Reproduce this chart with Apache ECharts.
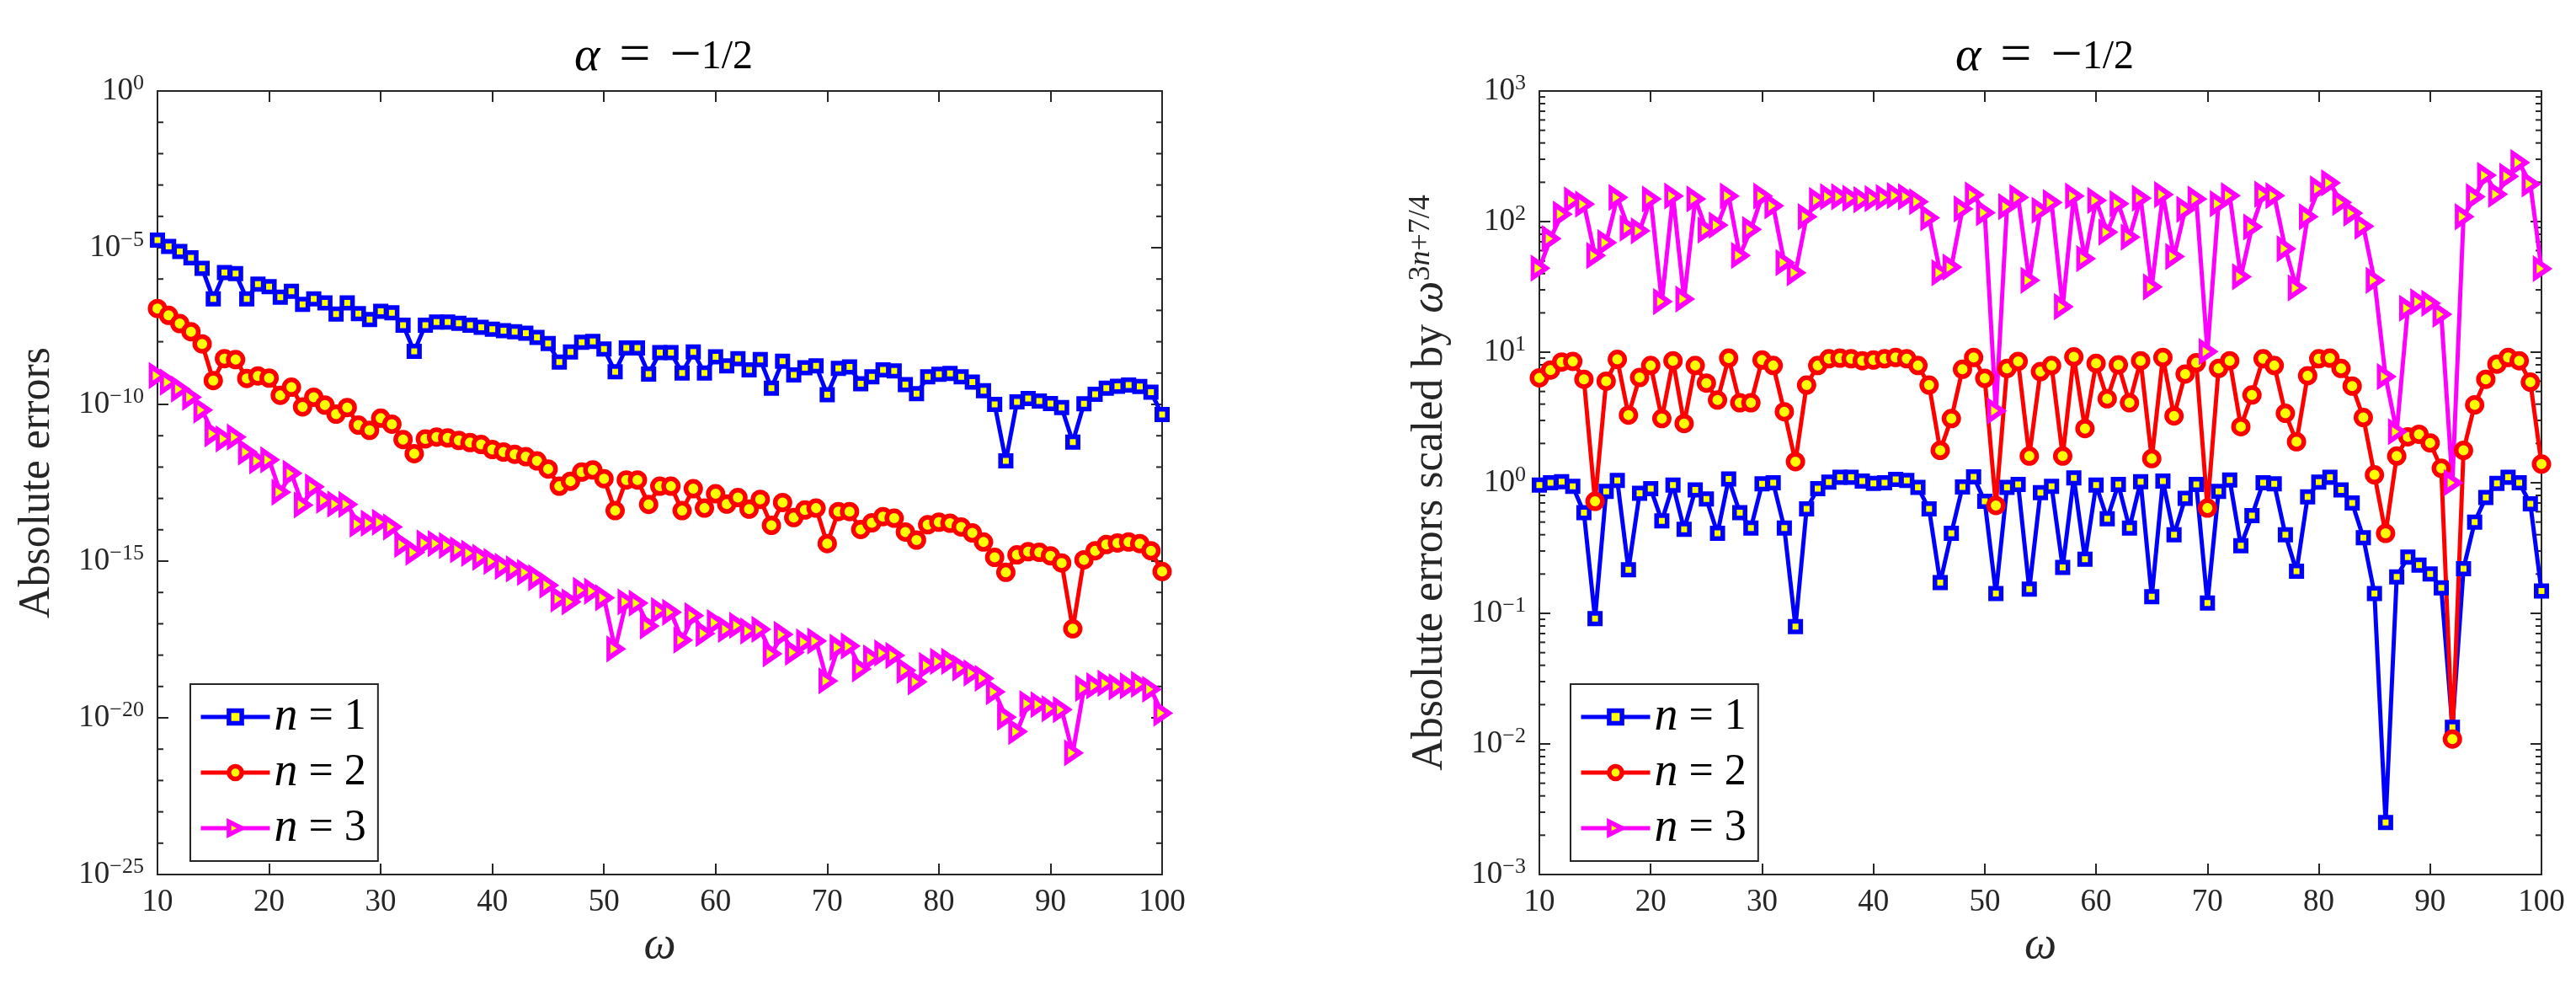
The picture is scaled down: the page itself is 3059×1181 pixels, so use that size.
<!DOCTYPE html>
<html>
<head>
<meta charset="utf-8">
<script src="https://cdn.jsdelivr.net/npm/echarts@6/dist/echarts.min.js"></script>
<style>
html,body{margin:0;padding:0;background:#ffffff;}
#chart{width:3059px;height:1181px;}
</style>
</head>
<body>
<div id="chart"></div>
<script>
// ---------- data ----------
const omega = [10,11,12,13,14,15,16,17,18,19,20,21,22,23,24,25,26,27,28,29,30,
  31,32,33,34,35,36,37,38,39,40,41,42,43,44,45,46,47,48,49,50,51,52,53,54,55,56,57,58,59,60,
  61,62,63,64,65,66,67,68,69,70,71,72,73,74,75,76,77,78,79,80,81,82,83,84,85,86,87,88,89,90,
  91,92,93,94,95,96,97,98,99,100];

// Left panel: absolute errors
const absErrN1 = [1.74e-5,1.10e-5,7.59e-6,4.79e-6,2.19e-6,2.34e-7,1.62e-6,1.48e-6,2.34e-7,6.92e-7,5.75e-7,
  2.63e-7,4.07e-7,1.55e-7,2.34e-7,1.74e-7,7.59e-8,1.74e-7,7.94e-8,5.13e-8,9.33e-8,
  8.32e-8,3.39e-8,4.90e-9,3.39e-8,4.27e-8,4.27e-8,3.89e-8,3.39e-8,2.88e-8,2.51e-8,
  2.24e-8,2.09e-8,1.86e-8,1.38e-8,8.71e-9,2.24e-9,4.68e-9,9.55e-9,1.02e-8,5.89e-9,
  1.10e-9,6.31e-9,6.31e-9,9.33e-10,4.47e-9,4.47e-9,1.00e-9,4.68e-9,1.00e-9,3.31e-9,
  1.70e-9,2.88e-9,1.26e-9,2.69e-9,3.31e-10,2.40e-9,8.71e-10,1.48e-9,1.70e-9,2.04e-10,
  1.41e-9,1.58e-9,4.57e-10,7.59e-10,1.26e-9,1.17e-9,4.27e-10,2.19e-10,7.59e-10,9.12e-10,
  9.77e-10,7.59e-10,5.13e-10,2.75e-10,1.00e-10,1.58e-12,1.20e-10,1.55e-10,1.29e-10,1.07e-10,
  7.94e-11,6.31e-12,1.05e-10,2.09e-10,3.31e-10,3.80e-10,4.17e-10,3.72e-10,2.45e-10,4.79e-11];

const absErrN2 = [1.15e-7,6.92e-8,3.80e-8,2.09e-8,8.51e-9,5.75e-10,2.88e-9,2.69e-9,6.76e-10,8.13e-10,6.92e-10,
  1.95e-10,3.55e-10,8.32e-11,1.70e-10,9.55e-11,4.90e-11,7.94e-11,2.19e-11,1.48e-11,3.63e-11,
  2.34e-11,7.59e-12,2.69e-12,7.94e-12,9.12e-12,8.51e-12,7.08e-12,6.03e-12,5.25e-12,3.63e-12,
  3.02e-12,2.57e-12,2.14e-12,1.58e-12,8.71e-13,2.45e-13,3.55e-13,6.92e-13,8.13e-13,4.27e-13,
  4.07e-14,3.89e-13,3.89e-13,6.46e-14,2.45e-13,2.45e-13,4.07e-14,2.04e-13,4.90e-14,1.41e-13,
  6.61e-14,1.07e-13,4.57e-14,9.33e-14,1.38e-14,7.41e-14,2.45e-14,4.27e-14,4.90e-14,3.63e-15,
  3.80e-14,3.80e-14,1.02e-14,1.66e-14,2.63e-14,2.34e-14,8.51e-15,4.68e-15,1.45e-14,1.74e-14,
  1.62e-14,1.23e-14,7.94e-15,4.07e-15,1.32e-15,4.37e-16,1.58e-15,2.00e-15,1.91e-15,1.48e-15,
  8.71e-16,6.92e-18,1.10e-15,2.14e-15,3.39e-15,3.80e-15,4.07e-15,3.63e-15,2.14e-15,4.68e-16];

const absErrN3 = [8.32e-10,5.13e-10,3.09e-10,1.70e-10,6.61e-11,1.15e-11,7.94e-12,9.12e-12,3.02e-12,1.58e-12,1.70e-12,
  1.58e-13,6.31e-13,6.17e-14,2.34e-13,8.71e-14,6.61e-14,6.46e-14,1.51e-14,1.62e-14,1.74e-14,
  1.23e-14,3.39e-15,1.91e-15,3.80e-15,3.63e-15,3.16e-15,2.29e-15,1.78e-15,1.32e-15,9.77e-16,
  6.76e-16,5.62e-16,4.37e-16,2.95e-16,1.70e-16,6.17e-17,5.01e-17,1.17e-16,1.10e-16,6.76e-17,
  1.58e-18,5.01e-17,4.57e-17,8.51e-18,2.63e-17,2.34e-17,3.02e-18,1.82e-17,4.90e-18,1.10e-17,
  6.61e-18,8.91e-18,5.89e-18,6.61e-18,1.10e-18,4.57e-18,1.23e-18,2.63e-18,2.82e-18,1.51e-19,
  1.78e-18,1.95e-18,3.63e-19,8.13e-19,1.17e-18,9.77e-19,3.24e-19,1.41e-19,4.68e-19,6.31e-19,
  6.31e-19,3.89e-19,2.69e-19,1.82e-19,6.76e-20,1.05e-20,3.63e-21,2.82e-20,2.63e-20,1.95e-20,
  1.82e-20,7.59e-22,8.71e-20,1.05e-19,1.26e-19,9.77e-20,1.05e-19,1.17e-19,8.13e-20,1.41e-20];

// Right panel: absolute errors scaled by omega^(3n+7/4)
const scaledN1 = [0.96,1.0,1.02,0.94,0.59,0.091,0.86,1.04,0.216,0.83,0.90,
  0.51,0.96,0.44,0.88,0.75,0.41,1.07,0.59,0.45,0.98,
  1.0,0.45,0.079,0.63,0.90,1.01,1.10,1.10,1.03,0.99,
  1.0,1.06,1.04,0.92,0.63,0.172,0.41,0.93,1.11,0.72,
  0.142,0.92,0.97,0.153,0.84,0.94,0.225,1.09,0.26,0.96,
  0.53,0.97,0.45,1.02,0.134,1.03,0.40,0.76,0.97,0.12,
  0.86,1.05,0.33,0.56,1.0,0.98,0.40,0.21,0.78,1.01,
  1.10,0.88,0.70,0.38,0.142,0.0025,0.19,0.27,0.234,0.20,
  0.157,0.0134,0.22,0.50,0.77,0.99,1.10,1.0,0.69,0.148];

const scaledN2 = [6.36,7.3,8.4,8.5,6.2,0.72,6.0,8.8,3.3,6.4,7.9,
  3.1,8.6,2.84,7.9,5.8,4.3,9.0,4.1,4.1,8.7,
  7.9,3.5,1.45,5.6,7.9,8.9,9.0,8.9,8.6,8.7,
  8.9,9.1,8.9,7.9,5.6,1.77,3.1,7.4,9.1,6.3,
  0.67,7.5,8.5,1.6,7.1,7.9,1.6,9.2,2.6,8.2,
  4.4,8.0,4.1,8.6,1.53,9.1,3.25,6.8,8.3,0.64,
  7.5,8.6,2.69,4.7,8.9,7.9,3.4,2.06,6.6,8.9,
  9.0,7.5,5.5,3.16,1.15,0.41,1.6,2.25,2.35,2.02,
  1.29,0.0109,1.77,3.95,6.2,8.1,9.1,8.6,5.9,1.39];

const scaledN3 = [44,74,114,146,136,55,69,153,89,85,149,
  24.4,157,25.5,149,86,94,157,55,87,157,
  132,48.5,40.6,109,145,155,155,151,147,150,
  153,158,155,142,107,40.6,44.8,125,160,117,
  3.55,130,153,35.5,122,140,22.3,157,52,145,
  83,137,76,151,31.6,161,54,124,149,10.1,
  137,158,37.8,91,162,158,62,31,109,178,
  198,140,116,92,35.5,6.5,2.46,21.7,24.3,23.7,
  19.5,1.0,109,155,226,162,222,283,194,43.6];

// tick values
const xTicks = [10,20,30,40,50,60,70,80,90,100];
const leftMajorTicks = [1e-25,1e-20,1e-15,1e-10,1e-5,1];
const leftMinorTicks = [1e-24,1e-23,1e-22,1e-21,1e-19,1e-18,1e-17,1e-16,1e-14,1e-13,1e-12,1e-11,
  1e-9,1e-8,1e-7,1e-6,1e-4,1e-3,1e-2,1e-1];
const rightMajorTicks = [1e-3,1e-2,1e-1,1,10,100,1000];
const rightMinorTicks = [];
[1e-3,1e-2,1e-1,1,10,100].forEach(function(d){ for (var k=2;k<=9;k++) rightMinorTicks.push(+(k*d).toPrecision(3)); });

const seriesNames = ['n = 1','n = 2','n = 3'];

// ---------- styling ----------
const AX = '#262626';
const SERIF = 'Liberation Serif';
const grids = [
  {left:187, top:108, width:1193, height:930},
  {left:1828, top:108, width:1190, height:930}
];

function supLabel(v){
  const e = Math.round(Math.log10(v));
  return '10{sup|' + (e < 0 ? '\u2212' + (-e) : String(e)) + '}';
}
const labelRich = {
  sup: {fontFamily:SERIF, fontSize:26, color:AX, verticalAlign:'top', lineHeight:26}
};

function xAxes(gi){
  const common = {
    gridIndex:gi, type:'value', min:10, max:100, interval:10,
    axisLine:{show:true, onZero:false, lineStyle:{color:AX, width:2}},
    axisTick:{show:true, inside:true, length:13, customValues:xTicks, lineStyle:{color:AX, width:2}},
    splitLine:{show:false}, minorTick:{show:false}
  };
  return [
    Object.assign({}, common, {
      position:'bottom',
      axisLabel:{show:true, customValues:xTicks, margin:15, fontFamily:SERIF, fontSize:37, color:AX, lineHeight:37},
      name:'\u03c9', nameLocation:'middle', nameGap:56,
      nameTextStyle:{fontFamily:SERIF, fontStyle:'italic', fontSize:54, color:AX, lineHeight:56}
    }),
    Object.assign({}, common, {position:'top', axisLabel:{show:false}})
  ];
}

function yAxes(gi, min, max, majors, nameObj){
  const common = {
    gridIndex:gi, type:'log', logBase:10, min:min, max:max,
    axisLine:{show:true, onZero:false, lineStyle:{color:AX, width:2}},
    axisTick:{show:true, inside:true, length:13, customValues:majors, lineStyle:{color:AX, width:2}},
    splitLine:{show:false}, minorTick:{show:false}
  };
  return [
    Object.assign({}, common, {
      position:'left',
      axisLabel:{show:true, customValues:majors, margin:16, fontFamily:SERIF, fontSize:37, color:AX,
        lineHeight:44, formatter:supLabel, rich:labelRich},
      name:nameObj.text, nameLocation:'middle', nameGap:nameObj.gap, nameRotate:90,
      nameTextStyle:{fontFamily:SERIF, fontSize:52, color:AX, lineHeight:56, rich:nameObj.rich}
    }),
    Object.assign({}, common, {position:'right', axisLabel:{show:false}})
  ];
}

function lineSeries(name, values, xi, yi, symbol, size, rot, color){
  return {
    type:'line', name:name, xAxisIndex:xi, yAxisIndex:yi,
    data: omega.map(function(w,i){ return [w, values[i]]; }),
    symbol:symbol, symbolSize:size, symbolRotate:rot, showSymbol:true, showAllSymbol:true,
    lineStyle:{color:color, width:5},
    itemStyle:{color:'#FFFF00', borderColor:color, borderWidth:5.5},
    emphasis:{disabled:true}, animation:false, clip:false
  };
}

function minorTickSeries(xi, yi, values){
  return {
    type:'custom', xAxisIndex:xi, yAxisIndex:yi, silent:true, animation:false, clip:false, z:1,
    data: values.map(function(v){ return [10, v]; }),
    encode:{x:0, y:1},
    renderItem:function(params, api){
      const p = api.coord([10, api.value(1)]);
      const cs = params.coordSys;
      const x0 = cs.x, x1 = cs.x + cs.width, y = p[1];
      return {type:'group', children:[
        {type:'line', shape:{x1:x0, y1:y, x2:x0+7, y2:y}, style:{stroke:AX, lineWidth:2}},
        {type:'line', shape:{x1:x1-7, y1:y, x2:x1, y2:y}, style:{stroke:AX, lineWidth:2}}
      ]};
    }
  };
}

function legendFor(left){
  return {
    show:true, orient:'vertical', left:left, top:812,
    data:seriesNames,
    itemWidth:82, itemHeight:19, itemGap:10,
    padding:[11,14,11,10],
    borderColor:AX, borderWidth:2, backgroundColor:'#ffffff', borderRadius:0,
    selectedMode:false,
    itemStyle:{borderWidth:5.5},
    lineStyle:{width:5},
    textStyle:{fontFamily:SERIF, fontSize:52, color:'#000', lineHeight:52,
      rich:{
        i:{fontFamily:SERIF, fontStyle:'italic', fontSize:56, color:'#000', lineHeight:52},
        t:{fontFamily:SERIF, fontSize:52, color:'#000', lineHeight:52}
      }},
    formatter:function(n){ return '{i|n}{t| = ' + n.slice(-1) + '}'; }
  };
}

const titleRich = {
  i:{fontFamily:SERIF, fontStyle:'italic', fontSize:58, color:'#000', lineHeight:60},
  op:{fontFamily:SERIF, fontSize:66, color:'#000', lineHeight:60},
  sp:{fontFamily:SERIF, fontSize:46, color:'#000', lineHeight:60},
  t:{fontFamily:SERIF, fontSize:48, color:'#000', lineHeight:60}
};
const titleText = '{i|\u03b1}{sp|\u2002}{op|=}{sp|\u2002}{op|\u2212}{t|1/2}';
const nameRich = {
  w:{fontFamily:SERIF, fontStyle:'italic', fontSize:54, color:AX, lineHeight:56},
  sup:{fontFamily:SERIF, fontSize:36, color:AX, verticalAlign:'top', lineHeight:36},
  supi:{fontFamily:SERIF, fontStyle:'italic', fontSize:36, color:AX, verticalAlign:'top', lineHeight:36}
};

const option = {
  backgroundColor:'#ffffff',
  animation:false,
  title:[
    {text:titleText, left:783, top:33, textAlign:'center',
      textStyle:{fontFamily:SERIF, fontSize:46, color:'#000', fontWeight:'normal', lineHeight:60, rich:titleRich}},
    {text:titleText, left:2423, top:33, textAlign:'center',
      textStyle:{fontFamily:SERIF, fontSize:46, color:'#000', fontWeight:'normal', lineHeight:60, rich:titleRich}}
  ],
  grid: grids.map(function(g){ return Object.assign({containLabel:false, outerBoundsMode:'none', show:false}, g); }),
  xAxis: xAxes(0).concat(xAxes(1)),
  yAxis: yAxes(0, 1e-25, 1, leftMajorTicks, {text:'Absolute errors', gap:115, rich:{}})
    .concat(yAxes(1, 1e-3, 1e3, rightMajorTicks,
      {text:'Absolute errors scaled by {w|\u03c9}{sup|3}{supi|n}{sup|+7/4}', gap:102, rich:nameRich})),
  legend:[legendFor(226), legendFor(1865)],
  series:[
    minorTickSeries(0, 0, leftMinorTicks),
    minorTickSeries(2, 2, rightMinorTicks),
    lineSeries(seriesNames[0], absErrN1, 0, 0, 'rect', 12.5, 0, '#0000FF'),
    lineSeries(seriesNames[1], absErrN2, 0, 0, 'circle', 17.5, 0, '#FF0000'),
    lineSeries(seriesNames[2], absErrN3, 0, 0, 'triangle', [22,16], -90, '#FF00FF'),
    lineSeries(seriesNames[0], scaledN1, 2, 2, 'rect', 12.5, 0, '#0000FF'),
    lineSeries(seriesNames[1], scaledN2, 2, 2, 'circle', 17.5, 0, '#FF0000'),
    lineSeries(seriesNames[2], scaledN3, 2, 2, 'triangle', [22,16], -90, '#FF00FF')
  ]
};

const chart = echarts.init(document.getElementById('chart'), null, {renderer:'canvas', width:3059, height:1181});
chart.setOption(option);
</script>
</body>
</html>
